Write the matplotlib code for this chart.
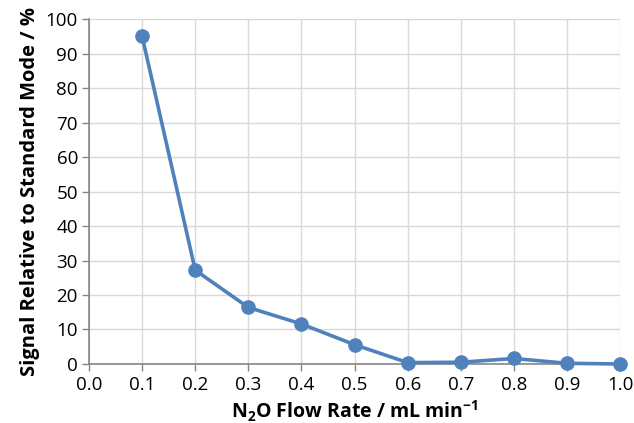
import matplotlib
matplotlib.use("Agg")
import matplotlib.pyplot as plt

# N2O flow rate (mL/min) vs signal relative to standard mode (%)
flow_rate = [0.1, 0.2, 0.3, 0.4, 0.5, 0.6, 0.7, 0.8, 0.9, 1.0]
signal_pct = [95.0, 27.2, 16.4, 11.6, 5.6, 0.4, 0.5, 1.6, 0.2, 0.0]

x_ticks = [0.0, 0.1, 0.2, 0.3, 0.4, 0.5, 0.6, 0.7, 0.8, 0.9, 1.0]
y_ticks = [0, 10, 20, 30, 40, 50, 60, 70, 80, 90, 100]

LINE_COLOR = "#4f81bd"
AXIS_COLOR = "#868686"
GRID_COLOR = "#d9d9d9"

plt.rcParams["font.family"] = ["Open Sans", "DejaVu Sans"]
plt.rcParams["mathtext.fontset"] = "custom"
plt.rcParams["mathtext.rm"] = "Open Sans"
plt.rcParams["mathtext.bf"] = "Open Sans:bold"

fig = plt.figure(figsize=(6.34, 4.23), dpi=100)
ax = fig.add_axes([0.1404, 0.1395, 0.8376, 0.8155])

ax.plot(flow_rate, signal_pct, color=LINE_COLOR, lw=2.6, marker="o", ms=9.5,
        clip_on=False, zorder=3)

ax.set_xlim(0.0, 1.0)
ax.set_ylim(0, 100)
ax.set_xticks(x_ticks)
ax.set_xticklabels([f"{v:.1f}" for v in x_ticks])
ax.set_yticks(y_ticks)
ax.grid(color=GRID_COLOR, lw=1.0)
ax.set_axisbelow(True)

for side in ("left", "bottom"):
    ax.spines[side].set_color(AXIS_COLOR)
    ax.spines[side].set_linewidth(1.2)
for side in ("top", "right"):
    ax.spines[side].set_visible(False)

ax.tick_params(axis="both", colors=AXIS_COLOR, labelcolor="black",
               labelsize=13.5, length=5, width=1.0)
ax.tick_params(axis="y", pad=3)
ax.tick_params(axis="x", pad=4)

ax.set_xlabel(r"N$_\mathbf{2}$O Flow Rate / mL min$^{\mathbf{-1}}$",
              fontsize=14, fontweight="bold", labelpad=3)
ax.set_ylabel("Signal Relative to Standard Mode / %", fontsize=14.5,
              fontweight="bold", labelpad=4)

fig.savefig("out.png", dpi=100)
